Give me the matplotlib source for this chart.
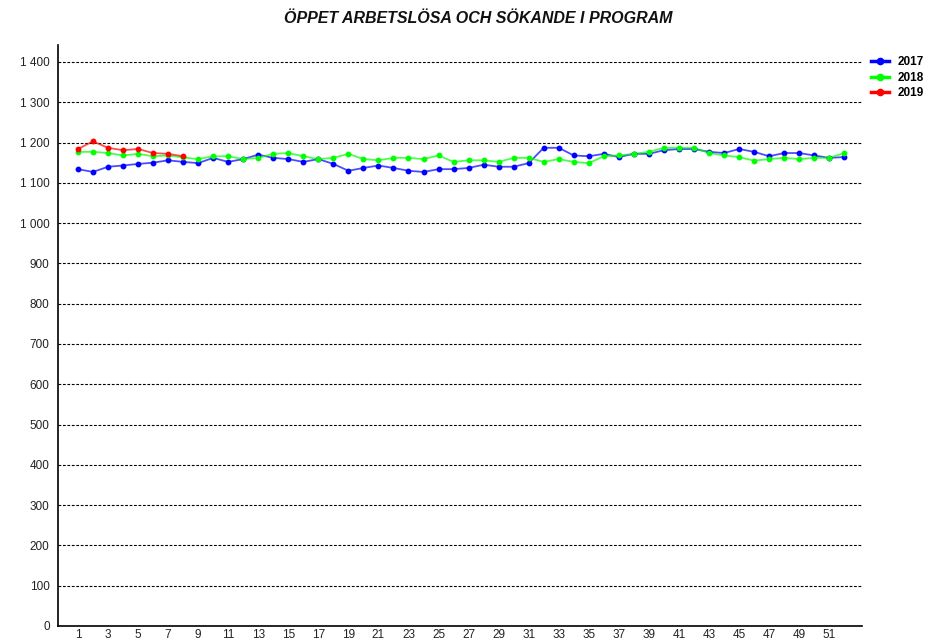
import numpy as np
import matplotlib.pyplot as plt

plt.rcParams['font.family'] = ['Liberation Sans', 'DejaVu Sans']

# week numbers and values per year
weeks_2017 = list(range(1, 53))
values_2017 = [1134, 1127, 1140, 1143, 1147, 1150, 1156, 1152, 1149, 1162,
               1152, 1159, 1170, 1162, 1159, 1152, 1159, 1147, 1130, 1137,
               1143, 1137, 1130, 1127, 1134, 1134, 1137, 1145, 1140, 1140,
               1149, 1187, 1187, 1168, 1166, 1172, 1164, 1172, 1172, 1181,
               1184, 1184, 1177, 1174, 1184, 1177, 1166, 1174, 1174, 1168,
               1162, 1164]
weeks_2018 = list(range(1, 53))
values_2018 = [1177, 1177, 1174, 1168, 1172, 1166, 1168, 1163, 1159, 1166,
               1166, 1159, 1162, 1172, 1174, 1166, 1159, 1162, 1172, 1159,
               1156, 1162, 1162, 1159, 1168, 1152, 1156, 1156, 1152, 1162,
               1162, 1152, 1159, 1152, 1149, 1166, 1168, 1172, 1177, 1187,
               1187, 1187, 1174, 1168, 1164, 1155, 1159, 1162, 1159, 1162,
               1162, 1174]
weeks_2019 = list(range(1, 9))
values_2019 = [1184, 1203, 1187, 1181, 1184, 1174, 1172, 1166]

series = [
    ('2017', weeks_2017, values_2017, '#0000ff'),
    ('2018', weeks_2018, values_2018, '#00ff00'),
    ('2019', weeks_2019, values_2019, '#ff0000'),
]

fig = plt.figure(figsize=(9.44, 6.44), dpi=100)
ax = fig.add_axes([0.0614, 0.028, 0.852, 0.902])

for label, x, y, color in series:
    ax.plot(x, y, color=color, lw=1.3, alpha=0.7, zorder=3)
    ax.plot(x, y, linestyle='none', marker='o', ms=3.2, color=color, zorder=4)
    # legend proxy
    ax.plot([], [], color=color, lw=2.5, marker='o', ms=4.5, label=label)

ax.set_xlim(-0.33, 53.2)
ax.set_ylim(0, 1442)
ax.set_xticks(range(1, 52, 2))
yticks = np.arange(0, 1401, 100)
ax.set_yticks(yticks)
ax.set_yticklabels([f'{v:,}'.replace(',', ' ') for v in yticks])
ax.tick_params(axis='both', length=0, labelsize=8.5, colors='#222222', pad=6)
ax.tick_params(axis='x', pad=2.5)

for v in yticks[1:]:
    ax.axhline(v, color='black', lw=0.8, ls=(0, (2.5, 1.5)), zorder=1)

for side in ['top', 'right']:
    ax.spines[side].set_visible(False)
for side in ['left', 'bottom']:
    ax.spines[side].set_linewidth(1.2)
    ax.spines[side].set_color('black')

fig.text(0.507, 0.971, 'ÖPPET ARBETSLÖSA OCH SÖKANDE I PROGRAM',
         ha='center', va='center', fontsize=11.5, style='italic',
         fontweight='bold', color='#111111')

leg = ax.legend(loc='upper left', bbox_to_anchor=(1.0, 0.995), frameon=False,
                fontsize=8.5, handlelength=1.6, handletextpad=0.7,
                labelspacing=0.3, borderaxespad=0.3)
for t in leg.get_texts():
    t.set_fontweight('bold')

fig.savefig('out.png', dpi=100)
